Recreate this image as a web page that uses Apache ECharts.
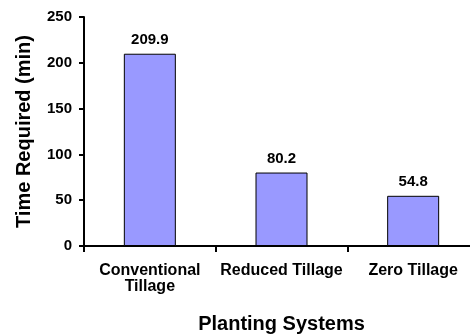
<!DOCTYPE html>
<html>
<head>
<meta charset="utf-8">
<script src="https://cdn.jsdelivr.net/npm/echarts@6/dist/echarts.min.js"></script>
<style>
  html, body { margin: 0; padding: 0; background: #fff; }
  #chart { width: 470px; height: 334px; }
</style>
</head>
<body>
<div id="chart"></div>
<script>
// Time needed per planting system
const categories = ['Conventional\nTillage', 'Reduced Tillage', 'Zero Tillage'];
const timeRequired = [209.9, 80.2, 54.8];
const yTicks = [0, 50, 100, 150, 200, 250];

const FONT = 'Arial, "Liberation Sans", sans-serif';
const chart = echarts.init(document.getElementById('chart'), null, { renderer: 'canvas' });

chart.setOption({
  animation: false,
  backgroundColor: '#ffffff',
  grid: {
    left: 84, top: 17, bottom: 88, right: -9,
    containLabel: false, outerBoundsMode: 'none'
  },
  xAxis: {
    type: 'category',
    data: categories,
    name: 'Planting Systems',
    nameLocation: 'middle',
    nameGap: 68,
    nameTextStyle: { fontFamily: FONT, fontWeight: 'bold', fontSize: 20, color: '#000' },
    axisLine: { lineStyle: { color: '#000', width: 2 } },
    axisTick: { show: true, length: 6, lineStyle: { color: '#000', width: 2 } },
    axisLabel: {
      margin: 17, color: '#000', fontFamily: FONT, fontWeight: 'bold', fontSize: 16,
      lineHeight: 16, interval: 0
    }
  },
  yAxis: {
    type: 'value',
    min: yTicks[0],
    max: yTicks[yTicks.length - 1],
    interval: yTicks[1] - yTicks[0],
    name: 'Time Required (min)',
    nameLocation: 'middle',
    nameGap: 50,
    nameTextStyle: { fontFamily: FONT, fontWeight: 'bold', fontSize: 20, color: '#000' },
    axisLine: { show: true, lineStyle: { color: '#000', width: 2 } },
    axisTick: { show: true, length: 5, lineStyle: { color: '#000', width: 2 } },
    axisLabel: { margin: 12, color: '#000', fontFamily: FONT, fontWeight: 'bold', fontSize: 15 },
    splitLine: { show: false }
  },
  series: [{
    type: 'bar',
    data: timeRequired,
    barWidth: 52,
    itemStyle: { color: '#9999ff', borderColor: '#000', borderWidth: 1 },
    label: {
      show: true, position: 'top', distance: 6,
      color: '#000', fontFamily: FONT, fontWeight: 'bold', fontSize: 15,
      formatter: p => p.value.toFixed(1)
    }
  }]
});
</script>
</body>
</html>
